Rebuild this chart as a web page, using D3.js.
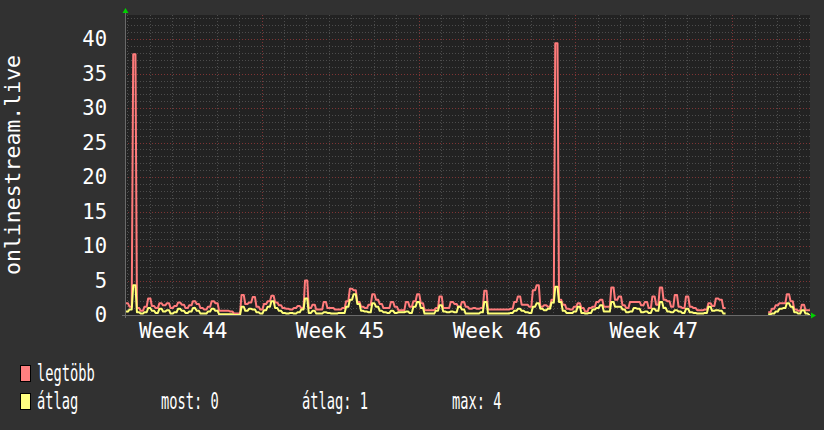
<!DOCTYPE html>
<html><head><meta charset="utf-8">
<script src="https://cdn.jsdelivr.net/npm/d3@7"></script>
<style>html,body{margin:0;padding:0;background:#313131;} svg{display:block;}</style>
</head><body><svg id="c" width="824" height="430"></svg>
<script>
// ---- data ----
const startTime = "2023-10-30T21:40:00Z";
const endTime = "2023-11-30T11:16:00Z";
const stepHours = 4;
const maxValues = [
1.7,1.2,37.8,1.0,0.6,1.2,2.4,1.3,1.0,1.7,
1.4,1.7,1.0,1.3,1.8,1.5,1.0,1.4,2.0,1.6,
1.0,0.8,1.2,2.0,1.7,0.6,0.6,0.6,0.5,0.2,
0.2,2.9,1.6,1.8,2.6,1.2,0.8,1.6,2.0,2.8,
1.8,1.4,1.0,0.9,0.8,1.0,1.3,1.0,5.0,1.0,
1.5,0.8,0.8,1.9,1.0,1.0,0.8,0.8,1.0,2.0,
3.8,3.6,1.9,1.2,1.0,1.5,3.0,2.2,1.6,1.0,
1.0,1.9,1.2,0.7,0.7,1.9,1.2,2.0,3.0,1.7,
0.7,0.7,0.7,1.0,2.7,1.0,1.0,1.9,1.6,1.2,
1.9,1.2,0.9,1.0,0.9,1.0,3.5,0.8,0.8,0.8,
0.8,0.8,0.8,0.9,1.9,2.7,1.5,1.5,1.2,3.6,
4.3,1.2,1.4,1.2,2.2,39.4,2.2,1.5,0.9,0.8,
1.2,1.7,1.0,0.5,1.0,1.2,1.9,2.2,1.2,1.2,
4.0,2.2,2.7,1.4,1.0,1.9,1.9,1.9,1.4,1.9,
1.0,2.7,1.5,4.0,2.2,2.0,1.2,2.9,1.2,1.0,
2.7,1.2,1.0,0.7,0.7,0.8,1.7,1.3,2.4,2.2,
1.0,null,null,null,null,null,null,null,null,null,
null,null,0.4,0.9,1.4,1.7,1.7,3.0,2.0,0.8,
0.6,1.5,0.7,0.7];
const avgValues = [
0.5,0.8,4.3,0.4,0.2,0.4,1.0,0.6,0.3,0.9,
0.5,0.7,0.2,0.4,0.9,0.6,0.3,0.5,1.0,0.6,
0.2,0.2,0.5,0.9,0.6,0.1,0.1,0.1,0.1,0.0,
0.0,1.2,0.6,0.9,0.8,0.4,0.2,0.7,1.2,2.0,
1.0,0.6,0.3,0.2,0.3,0.2,0.4,0.8,2.4,0.3,
0.6,0.2,0.2,0.4,0.3,0.2,0.2,0.3,0.3,1.2,
2.2,3.0,1.6,0.6,0.5,0.4,1.7,1.2,0.6,0.4,
0.3,0.6,0.3,0.4,0.4,0.5,0.3,1.2,1.9,1.0,
0.2,0.2,0.2,0.6,1.4,0.5,0.4,0.5,0.4,1.2,
0.8,0.2,0.2,0.2,0.2,0.4,1.9,0.2,0.2,0.2,
0.2,0.2,0.2,0.3,0.6,0.9,0.6,0.4,0.3,1.2,
1.7,0.9,0.7,0.9,1.8,4.1,1.9,0.6,0.3,0.3,
0.5,1.2,0.3,0.2,0.3,0.8,1.0,1.4,0.5,0.5,
1.9,1.2,1.2,0.8,0.4,0.5,1.0,0.9,0.4,0.5,
0.3,0.9,0.6,1.9,1.0,0.5,0.4,0.7,0.5,0.3,
0.9,0.4,0.3,0.2,0.2,0.3,1.2,0.6,0.7,0.6,
0.2,null,null,null,null,null,null,null,null,null,
null,null,0.1,0.2,0.5,0.9,1.0,1.7,1.2,0.4,
0.2,0.7,0.2,0.0];
const yMax = 43.5;
const yTicks = [0,5,10,15,20,25,30,35,40];
const weekStarts = ["2023-10-30","2023-11-06","2023-11-13","2023-11-20"];
const yTitle = "onlinestream.live";
const seriesNames = ["legtöbb","átlag"];
const seriesColors = ["#ff7b7b","#ffff78"];
const legendBoxColors = ["#ff8080","#ffff80"];
const statTexts = ["most: 0","átlag: 1","max: 4"];

// ---- layout ----
const L = 125, R = 810, T = 15, B = 315;
const svg = d3.select("#c");
const t0 = new Date(startTime), t1 = new Date(endTime);
const x = d3.scaleUtc().domain([t0, t1]).range([L, R]);
const y = d3.scaleLinear().domain([0, yMax]).range([B, T]);
const font = "'DejaVu Sans Mono', monospace";

svg.append("rect").attr("width",824).attr("height",430).attr("fill","#313131");
svg.append("rect").attr("x",L).attr("y",T).attr("width",R-L).attr("height",B-T).attr("fill","#222222");

svg.append("clipPath").attr("id","pc").append("rect")
  .attr("x",L).attr("y",T).attr("width",R-L).attr("height",B-T);

// grid
const g = svg.append("g").attr("clip-path","url(#pc)");
const minorY = d3.range(1, Math.floor(yMax)+1).filter(v => v % 5 !== 0);
g.selectAll(".hmin").data(minorY).join("line")
  .attr("x1",L).attr("x2",R).attr("y1",d=>Math.round(y(d))+0.5).attr("y2",d=>Math.round(y(d))+0.5)
  .attr("stroke","#4c4c4c").attr("stroke-dasharray","1,2");
g.selectAll(".hmaj").data(yTicks.filter(v=>v>0)).join("line")
  .attr("x1",L).attr("x2",R).attr("y1",d=>Math.round(y(d))+0.5).attr("y2",d=>Math.round(y(d))+0.5)
  .attr("stroke","#7e3434").attr("stroke-dasharray","1,2");
const days = d3.utcDay.range(t0, t1).filter(d => d3.utcMonday.floor(d).getTime() !== d.getTime());
g.selectAll(".vmin").data(days).join("line")
  .attr("x1",d=>Math.round(x(d))+0.5).attr("x2",d=>Math.round(x(d))+0.5).attr("y1",T).attr("y2",B)
  .attr("stroke","#4c4c4c").attr("stroke-dasharray","1,2");
const mondays = d3.utcMonday.range(t0, t1);
g.selectAll(".vmaj").data(mondays).join("line")
  .attr("x1",d=>Math.round(x(d))+0.5).attr("x2",d=>Math.round(x(d))+0.5).attr("y1",T).attr("y2",B)
  .attr("stroke","#7e3434").attr("stroke-dasharray","1,2");

// series: each value holds its interval, joined by short slopes
function steps(vals) {
  const pts = [];
  vals.forEach((v, i) => {
    const a = d3.utcMinute.offset(t0, Math.round((i+0.2)*stepHours*60));
    const b = d3.utcMinute.offset(t0, Math.round((i+0.8)*stepHours*60));
    pts.push({t:a, v}); pts.push({t:b, v});
  });
  return pts;
}
const line = d3.line().defined(d => d.v != null).x(d => x(d.t)).y(d => y(d.v));
[maxValues, avgValues].forEach((vals, k) => {
  g.append("path").attr("d", line(steps(vals))).attr("fill","none")
    .attr("stroke", seriesColors[k]).attr("stroke-width",2).attr("stroke-linejoin","round");
});

// axes
svg.append("line").attr("x1",L-3).attr("x2",R+1).attr("y1",B+0.5).attr("y2",B+0.5).attr("stroke","#6a6a6a");
svg.append("line").attr("x1",L+0.5).attr("x2",L+0.5).attr("y1",T-3).attr("y2",B+3).attr("stroke","#6a6a6a");
svg.append("path").attr("d",`M${L-2.5},${T-2} L${L+3.5},${T-2} L${L+0.5},${T-7} Z`).attr("fill","#00d000");
svg.append("path").attr("d",`M${R+1},${B-2.5} L${R+1},${B+3.5} L${R+6},${B+0.5} Z`).attr("fill","#00d000");

// y tick labels
svg.selectAll(".yl").data(yTicks).join("text")
  .attr("x",107).attr("y",d=>y(d)+7).attr("text-anchor","end")
  .attr("font-family",font).attr("font-size",20.5).attr("fill","#ffffff").text(d=>d);

// week labels
svg.selectAll(".wl").data(weekStarts).join("text")
  .attr("x",d=>x(d3.utcHour.offset(new Date(d+"T00:00:00Z"), 84)))
  .attr("y",338).attr("text-anchor","middle")
  .attr("font-family",font).attr("font-size",21).attr("fill","#ffffff")
  .text(d=>"Week " + d3.utcFormat("%V")(new Date(d+"T00:00:00Z")));

// y title
svg.append("text").attr("transform",`translate(20,${(T+B)/2}) rotate(-90)`)
  .attr("text-anchor","middle").attr("font-family",font).attr("font-size",21.5)
  .attr("fill","#ffffff").text(yTitle);

// legend
const charW = 8.25;
seriesNames.forEach((name, k) => {
  const yy = 365 + k*28;
  svg.append("rect").attr("x",20.5).attr("y",yy+0.5).attr("width",10).attr("height",16)
    .attr("fill",legendBoxColors[k]).attr("stroke","#000").attr("stroke-width",1);
  svg.append("text").attr("x",37).attr("y",yy+16).attr("font-family",font).attr("font-size",23)
    .attr("fill","#fff").attr("textLength",name.length*charW).attr("lengthAdjust","spacingAndGlyphs").text(name);
});
const statX = [161, 302, 452];
statTexts.forEach((s, k) => {
  svg.append("text").attr("x",statX[k]).attr("y",409).attr("font-family",font).attr("font-size",23)
    .attr("fill","#fff").attr("textLength",s.length*charW).attr("lengthAdjust","spacingAndGlyphs").text(s);
});
</script></body></html>
